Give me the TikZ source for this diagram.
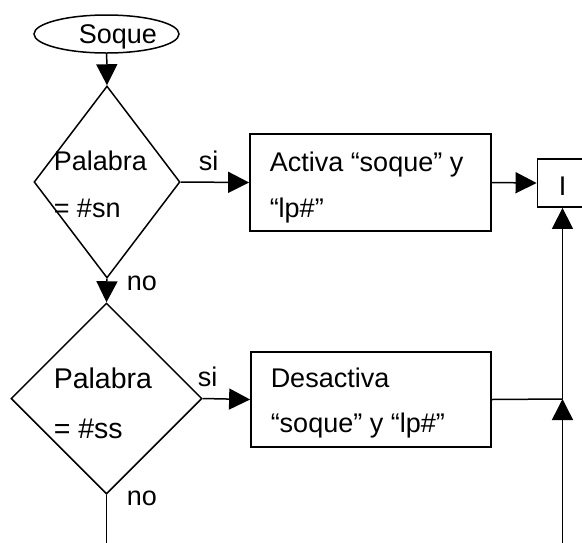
\documentclass[tikz,border=0pt]{standalone}
\usepackage{fontspec}
\setmainfont{Liberation Sans}
\usetikzlibrary{shapes.geometric,arrows.meta}
\begin{document}
\begin{tikzpicture}[x=1pt,y=-1pt,
  line width=1.5pt,
  flow/.style={-{Triangle[length=21pt,width=21pt]}},
  txt/.style={anchor=base west,inner sep=0pt,font=\fontsize{27}{27}\selectfont},
  bigtxt/.style={txt,font=\fontsize{28.5}{28.5}\selectfont},
  procbox/.style={draw,rectangle,inner sep=0pt,line width=1.8pt},
  decision/.style={draw,diamond,inner sep=0pt}]
\useasboundingbox (0,0) rectangle (582,542);
\clip (0,0) rectangle (582,542);

% start terminal
\node[draw,ellipse,minimum width=145pt,minimum height=38pt,inner sep=0pt] (start) at (106.5,34) {};
\node[txt] (startlbl) at (78,43) {Soque};

% first decision
\node[decision,minimum width=146pt,minimum height=192pt] (d1) at (107,182) {};
\node[txt] (d1a) at (53,170) {Palabra};
\node[txt] (d1b) at (53,217) {= \#sn};

% activate box
\node[procbox,minimum width=241pt,minimum height=97pt] (act) at (370.5,182.5) {};
\node[txt] (acta) at (269,171) {Activa “soque” y};
\node[txt] (actb) at (269,217) {“lp\#”};

% target box
\node[procbox,minimum width=50pt,minimum height=48pt] (ibox) at (562.5,183) {};
\node[txt,anchor=base] (iboxlbl) at (562.5,195) {I};

% second decision
\node[decision,minimum width=191pt,minimum height=191pt] (d2) at (106.5,398.5) {};
\node[bigtxt] (d2a) at (53,388) {Palabra};
\node[bigtxt] (d2b) at (53,438) {= \#ss};

% deactivate box
\node[procbox,minimum width=240pt,minimum height=95pt] (deact) at (371,399.5) {};
\node[txt] (deacta) at (270,387) {Desactiva};
\node[txt] (deactb) at (270,432) {“soque” y “lp\#”};

% branch labels
\node[txt] (si1) at (198,170) {si};
\node[txt] (no1) at (126,290) {no};
\node[txt] (si2) at (197,386) {si};
\node[txt] (no2) at (126,505) {no};

% connectors
\coordinate (join) at (562.5,399);
\coordinate (fromBelow) at (562.5,560);
\coordinate (d2out) at (106.5,560);

\draw[flow] (start) -- (d1.north);
\draw[flow] (d1.east) -- (act.west);
\draw[flow] (act.east) -- (ibox.west);
\draw[flow] (d1.south) -- (d2.north);
\draw[flow] (d2.east) -- (deact.west);
\draw (deact.east) -- (join);
\draw[flow] (fromBelow) -- (join);
\draw[flow] (join) -- (ibox.south);
\draw (d2.south) -- (d2out);
\end{tikzpicture}
\end{document}
